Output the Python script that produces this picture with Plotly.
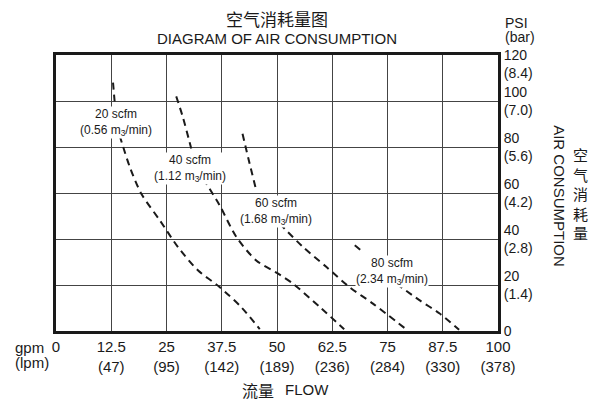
import plotly.graph_objects as go

# ---- data ----
gpm_ticks = [0, 12.5, 25, 37.5, 50, 62.5, 75, 87.5, 100]
lpm_labels = ["", "(47)", "(95)", "(142)", "(189)", "(236)", "(284)", "(330)", "(378)"]
psi_ticks = [0, 20, 40, 60, 80, 100, 120]
bar_labels = ["", "(1.4)", "(2.8)", "(4.2)", "(5.6)", "(7.0)", "(8.4)"]

# curves (gpm, psi); None marks the gap where the label sits
c20_x = [12.9, 13.3, None, 14.4, 16.7, 19.3, 23.5, 27.6, 32.1, 37.0, 41.9, 46.1]
c20_y = [108, 99, None, 85, 71.3, 59.7, 48.1, 36.5, 26.4, 19.1, 10.4, 0.8]
c40_x = [27.2, 28.7, 30.6, None, 33.3, 37.0, 40.8, 45.3, 50.6, 53.6, 59.7, 65.2]
c40_y = [102, 93, 79.3, None, 66.3, 54.7, 40.9, 30.7, 24.5, 20.6, 10.4, 0.8]
c60_x = [42.2, 43.8, 45.3, None, 50.6, 55.9, 61.2, 66.4, 71.7, 79.2]
c60_y = [85.8, 72.8, 61.2, None, 46.7, 36.5, 27.8, 19.1, 11.9, 0.8]
c80_x = [67.6, 69.5, None, 77.0, 82.3, 86.8, 91.2]
c80_y = [37.3, 34.3, None, 20.6, 13.3, 7.6, 0.5]

curve_names = ["20 scfm", "40 scfm", "60 scfm", "80 scfm"]
curve_m3 = ["0.56", "1.12", "1.68", "2.34"]
label_gpm = [13.6, 30.4, 49.8, 76.0]
label_psi = [90.8, 70.6, 52.0, 26.0]

LAT = "Liberation Sans, Arial, Noto Sans CJK SC, sans-serif"
CJK = "Noto Sans CJK SC, Liberation Sans, sans-serif"
INK = "#1a1a1a"

fig = go.Figure()
for xs, ys in [(c20_x, c20_y), (c40_x, c40_y), (c60_x, c60_y), (c80_x, c80_y)]:
    fig.add_trace(go.Scatter(x=xs, y=ys, mode="lines", connectgaps=False,
                             line=dict(color=INK, width=2, dash="7px,5px",
                                       shape="spline", smoothing=0.8),
                             hoverinfo="skip", showlegend=False))

for name, m3, gx, py in zip(curve_names, curve_m3, label_gpm, label_psi):
    fig.add_annotation(x=gx, y=py, xref="x", yref="y",
                       text=f"{name}<br>({m3} m<sub>3</sub>/min)",
                       showarrow=False, bgcolor="white", borderpad=0,
                       font=dict(family=LAT, size=12, color=INK))

x_ticktext = [("%g" % g) + ("<br>" + l if l else "") for g, l in zip(gpm_ticks, lpm_labels)]
y_ticktext = [str(p) + ("<br>" + b if b else "") for p, b in zip(psi_ticks, bar_labels)]
# top label sits lower in the reference (first line on the gridline)
y_ticktext[-1] = "<br>" + y_ticktext[-1]

fig.update_layout(
    width=591, height=403, autosize=False,
    margin=dict(l=56, r=93, t=55, b=72),
    plot_bgcolor="white", paper_bgcolor="white",
    font=dict(family=LAT, color=INK),
    xaxis=dict(range=[0, 100], tickvals=gpm_ticks, ticktext=x_ticktext,
               showgrid=True, gridcolor="#444", gridwidth=1,
               showline=True, linecolor=INK, linewidth=3, mirror=True,
               ticks="", zeroline=False, fixedrange=True, automargin=False,
               tickfont=dict(family=LAT, size=15, color=INK)),
    yaxis=dict(range=[0, 120], tickvals=psi_ticks, ticktext=y_ticktext, side="right",
               showgrid=True, gridcolor="#444", gridwidth=1,
               showline=True, linecolor=INK, linewidth=3, mirror=True,
               ticks="", zeroline=False, fixedrange=True, automargin=False,
               tickfont=dict(family=LAT, size=14, color=INK)),
)

def ann(text, x, y, size, family=LAT, xanchor="center", yanchor="middle", angle=0, xshift=0):
    fig.add_annotation(text=text, x=x, y=y, xref="paper", yref="paper", showarrow=False,
                       xanchor=xanchor, yanchor=yanchor, textangle=angle, xshift=xshift,
                       font=dict(family=family, size=size, color=INK))

ann("空气消耗量图", 0.5, 1.133, 17, CJK)
ann("DIAGRAM OF AIR CONSUMPTION", 0.5, 1.058, 15)
ann("PSI", 1.0, 1.117, 14, xanchor="left", xshift=5)
ann("(bar)", 1.0, 1.066, 14, xanchor="left", xshift=5)
ann("gpm", -0.0973, -0.0605, 15, xanchor="left")
ann("(lpm)", -0.0973, -0.1134, 15, xanchor="left")
ann("流量", 0.458, -0.212, 16, CJK)
ann("FLOW", 0.568, -0.212, 15)
ann("AIR CONSUMPTION", 1.140, 0.489, 15, angle=90)
ann("空<br>气<br>消<br>耗<br>量", 1.186, 0.498, 15, CJK)

fig.write_html("out.html", config={"displayModeBar": False},
               post_script="document.body.style.margin='0px';document.body.style.overflow='hidden';")
